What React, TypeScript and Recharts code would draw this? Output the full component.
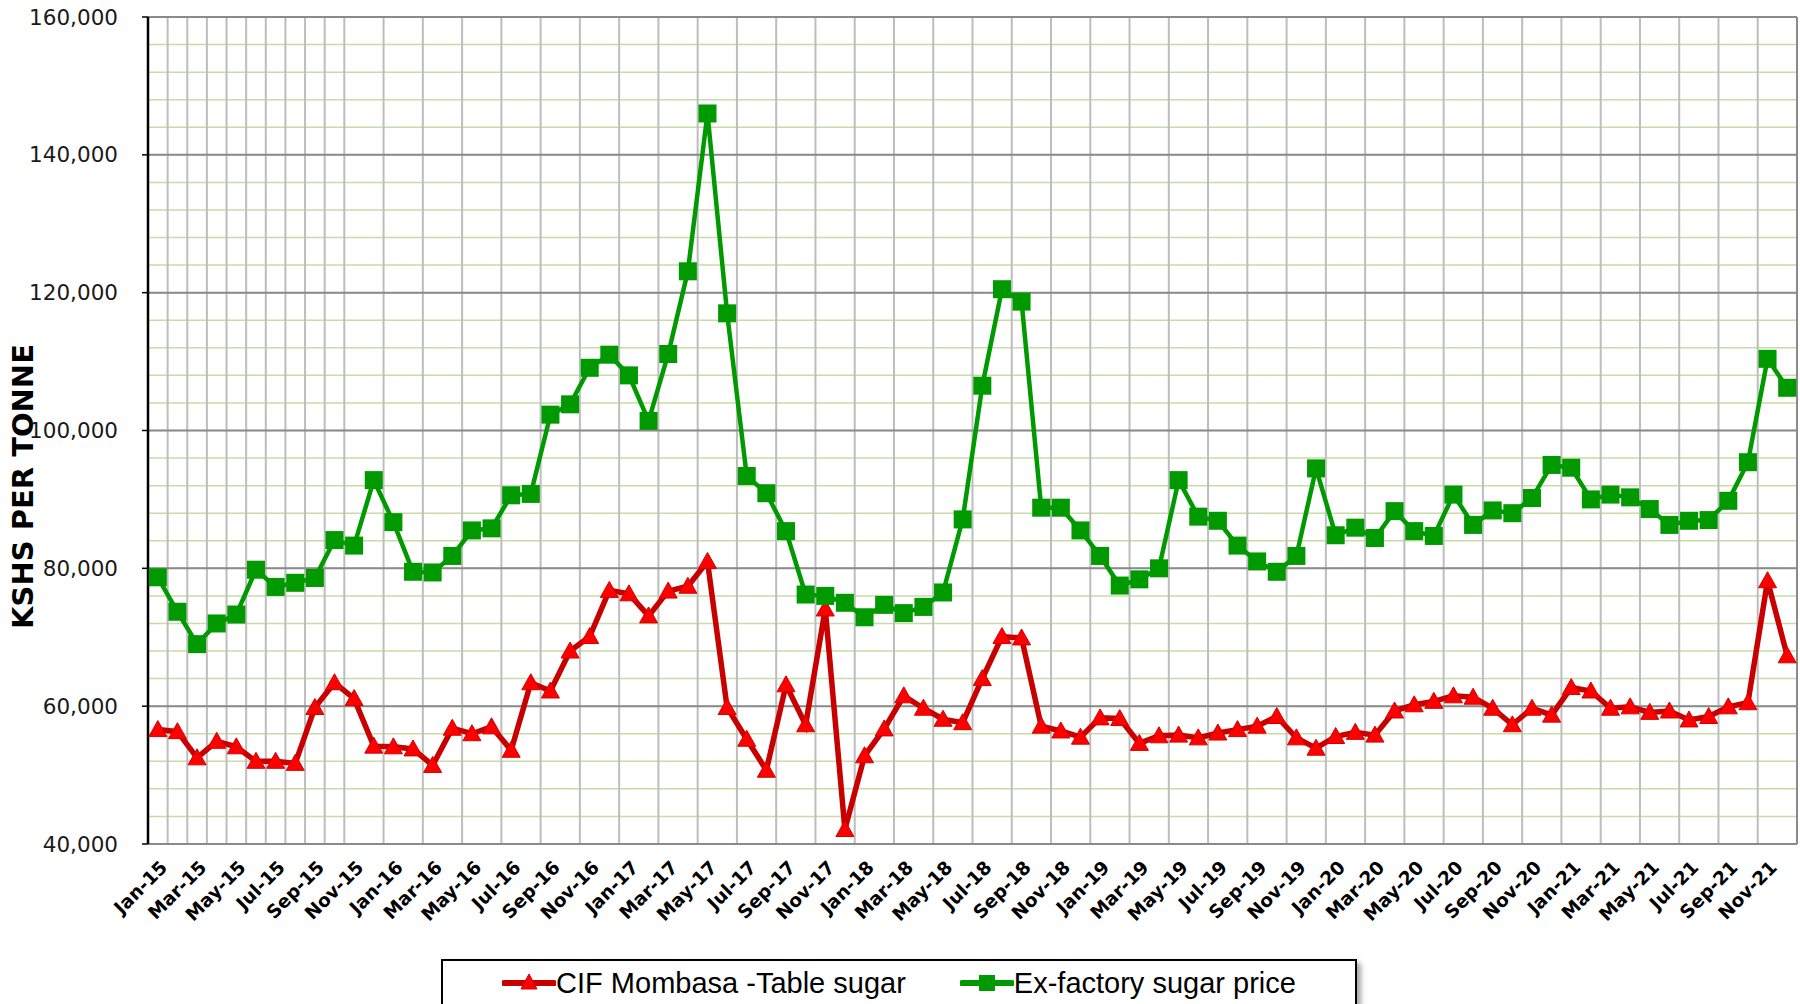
import { CartesianGrid, Legend, Line, LineChart, XAxis, YAxis } from "recharts";

const MONTH_NAMES = ["Jan", "Feb", "Mar", "Apr", "May", "Jun", "Jul", "Aug", "Sep", "Oct", "Nov", "Dec"];
const YEARS = ["15", "16", "17", "18", "19", "20", "21"];
const months = YEARS.flatMap((y) => MONTH_NAMES.map((m) => `${m}-${y}`));

// KSHS per tonne, Jan-15 .. Dec-21
const cifMombasa = [
  56600, 56300, 52500, 54900, 54100, 52000, 52000, 51700, 59800, 63400, 61100, 54200,
  54100, 53800, 51400, 56800, 56000, 57000, 53600, 63400, 62200, 68000, 70100, 76800,
  76300, 73100, 76700, 77400, 81000, 59800, 55200, 50700, 63100, 57300, 74100, 42100,
  52800, 56700, 61500, 59700, 58100, 57600, 64000, 70100, 69900, 57100, 56400, 55500,
  58300, 58200, 54600, 55700, 55800, 55400, 56100, 56600, 57100, 58500, 55400, 53900,
  55600, 56200, 55800, 59300, 60200, 60700, 61500, 61300, 59700, 57300, 59700, 58700,
  62700, 62200, 59700, 59900, 59100, 59300, 58000, 58500, 59900, 60500, 78200, 67300,
];

const exFactory = [
  78700, 73700, 69000, 72000, 73300, 79800, 77300, 77900, 78600, 84100, 83300, 92800,
  86700, 79500, 79400, 81800, 85500, 85800, 90600, 90800, 102300, 103800, 109100, 111000,
  108000, 101400, 111100, 123100, 146000, 117000, 93400, 90900, 85400, 76200, 76000, 75000,
  72900, 74700, 73500, 74400, 76500, 87100, 106500, 120500, 118700, 88800, 88800, 85500,
  81800, 77500, 78400, 80000, 92800, 87500, 86900, 83300, 81000, 79500, 81800, 94500,
  84800, 85900, 84400, 88300, 85400, 84700, 90700, 86300, 88400, 88000, 90200, 95000,
  94600, 90000, 90700, 90300, 88600, 86300, 86900, 87000, 89800, 95400, 110400, 106200,
];

const yMajorTicks = [40000, 60000, 80000, 100000, 120000, 140000, 160000];
const yMinorTicks = [
  40000, 44000, 48000, 52000, 56000, 60000, 64000, 68000, 72000, 76000, 80000, 84000, 88000,
  92000, 96000, 100000, 104000, 108000, 112000, 116000, 120000, 124000, 128000, 132000,
  136000, 140000, 144000, 148000, 152000, 156000, 160000,
];

// month i sits in the middle of slot [i, i+1]
const data = months.map((m, i) => ({
  x: i + 0.5,
  month: m,
  cif: cifMombasa[i],
  exf: exFactory[i],
}));

const slotEdges = Array.from({ length: months.length + 1 }, (_, i) => i);
const majorEdges = slotEdges.filter((i) => i % 2 === 0);
const labelTicks = data.filter((_, i) => i % 2 === 0).map((d) => d.x);

const RED_LINE = "#c80000";
const RED_MARK = "#ff0000";
const GREEN = "#009900";

const Triangle = (props: any) => {
  const { cx, cy, key } = props;
  if (cx == null || cy == null) return null;
  return (
    <polygon
      key={key}
      points={`${cx},${cy - 9} ${cx + 9},${cy + 7} ${cx - 9},${cy + 7}`}
      fill={RED_MARK}
      stroke="#d40000"
      strokeWidth={1}
    />
  );
};

const Square = (props: any) => {
  const { cx, cy, key } = props;
  if (cx == null || cy == null) return null;
  return <rect key={key} x={cx - 9} y={cy - 9} width={18} height={18} fill={GREEN} />;
};

const MonthTick = (props: any) => {
  const { x, y, payload } = props;
  const label = months[Math.round(payload.value - 0.5)];
  return (
    <g transform={`translate(${x + 6},${y + 12})`}>
      <text
        transform="rotate(-45)"
        textAnchor="end"
        dominantBaseline="central"
        fontFamily="DejaVu Sans"
        fontWeight="bold"
        fontSize={18.5}
        fill="#000"
      >
        {label}
      </text>
    </g>
  );
};

const YTitle = (props: any) => {
  const vb = props.viewBox || { y: 17, height: 827 };
  const cx = 23;
  const cy = vb.y + vb.height / 2 + 56;
  return (
    <text
      x={cx}
      y={cy}
      transform={`rotate(-90, ${cx}, ${cy})`}
      textAnchor="middle"
      dominantBaseline="central"
      fontFamily="DejaVu Sans"
      fontWeight="bold"
      fontSize={29}
      fill="#000"
    >
      KSHS PER TONNE
    </text>
  );
};

const LegendIcon = ({ kind }: { kind: "tri" | "sq" }) => (
  <svg width={54} height={24} style={{ display: "block" }}>
    <line x1={2} y1={12} x2={52} y2={12} stroke={kind === "tri" ? RED_LINE : GREEN} strokeWidth={6} strokeLinecap="round" />
    {kind === "tri" ? (
      <polygon points="27,3 35,18 19,18" fill={RED_MARK} stroke="#d40000" strokeWidth={1} />
    ) : (
      <rect x={19} y={4} width={16} height={16} fill={GREEN} />
    )}
  </svg>
);

const legendItems = [
  { kind: "tri" as const, label: "CIF Mombasa -Table sugar" },
  { kind: "sq" as const, label: "Ex-factory sugar price" },
];

const renderLegend = () => (
  <div
    style={{
      boxSizing: "border-box",
      width: 916,
      height: 70,
      border: "2px solid #000",
      background: "#fff",
      boxShadow: "4px 4px 5px rgba(0,0,0,0.35)",
      display: "flex",
      justifyContent: "center",
      alignItems: "flex-start",
      paddingTop: 5,
      gap: 54,
      fontFamily: "Liberation Sans",
      fontSize: 29,
      lineHeight: "34px",
      color: "#000",
    }}
  >
    {legendItems.map((it) => (
      <div key={it.label} style={{ display: "flex", alignItems: "center" }}>
        <LegendIcon kind={it.kind} />
        <span>{it.label}</span>
      </div>
    ))}
  </div>
);

export default function App() {
  return (
    <div
      style={{
        position: "absolute",
        left: 0,
        top: 0,
        width: 1800,
        height: 1004,
        overflow: "hidden",
        background: "#fff",
      }}
    >
      <LineChart width={1800} height={1004} data={data} margin={{ top: 17, right: 3, bottom: 0, left: 0 }}>
        <XAxis xAxisId="minorX" type="number" dataKey="x" domain={[0, 84]} ticks={slotEdges} allowDataOverflow hide />
        <YAxis yAxisId="minorY" type="number" domain={[40000, 160000]} ticks={yMinorTicks} allowDataOverflow hide />

        <CartesianGrid xAxisId="minorX" yAxisId="minorY" vertical={false} stroke="#c9dba6" strokeWidth={1.5} />
        <CartesianGrid xAxisId="minorX" yAxisId="minorY" horizontal={false} stroke="#bdbdbd" strokeWidth={2} />
        <CartesianGrid xAxisId="main" yAxisId="main" stroke="#8a8a8a" strokeWidth={2} />

        <XAxis
          xAxisId="main"
          type="number"
          dataKey="x"
          domain={[0, 84]}
          ticks={majorEdges}
          interval={0}
          allowDataOverflow
          height={0}
          tick={false}
          tickSize={7}
          tickLine={{ stroke: "#000", strokeWidth: 1.5 }}
          axisLine={{ stroke: "#000", strokeWidth: 2.5 }}
        />
        <XAxis
          xAxisId="labels"
          type="number"
          dataKey="x"
          domain={[0, 84]}
          ticks={labelTicks}
          interval={0}
          allowDataOverflow
          height={160}
          tick={<MonthTick />}
          tickLine={false}
          axisLine={false}
        />
        <XAxis
          xAxisId="top"
          orientation="top"
          type="number"
          dataKey="x"
          domain={[0, 84]}
          allowDataOverflow
          height={0}
          tick={false}
          tickLine={false}
          axisLine={{ stroke: "#000", strokeWidth: 2.5 }}
        />
        <YAxis
          yAxisId="main"
          type="number"
          domain={[40000, 160000]}
          ticks={yMajorTicks}
          interval={0}
          allowDataOverflow
          width={148}
          tickSize={6}
          tickMargin={24}
          tickLine={{ stroke: "#000", strokeWidth: 1.5 }}
          axisLine={{ stroke: "#000", strokeWidth: 2.5 }}
          tick={{ fontFamily: "DejaVu Sans", fontSize: 21.5, fill: "#1a1a1a" }}
          tickFormatter={(v: number) => v.toLocaleString("en-US")}
          label={<YTitle />}
        />
        <YAxis
          yAxisId="right"
          orientation="right"
          type="number"
          domain={[40000, 160000]}
          allowDataOverflow
          width={0}
          tick={false}
          tickLine={false}
          axisLine={{ stroke: "#000", strokeWidth: 2.5 }}
        />

        <Line
          xAxisId="main"
          yAxisId="main"
          dataKey="cif"
          name="CIF Mombasa -Table sugar"
          stroke={RED_LINE}
          strokeWidth={5.5}
          dot={Triangle}
          activeDot={false}
          isAnimationActive={false}
        />
        <Line
          xAxisId="main"
          yAxisId="main"
          dataKey="exf"
          name="Ex-factory sugar price"
          stroke={GREEN}
          strokeWidth={4.5}
          dot={Square}
          activeDot={false}
          isAnimationActive={false}
        />

        <Legend
          verticalAlign="middle"
          layout="horizontal"
          content={renderLegend}
          wrapperStyle={{ left: 441, top: 959, width: 916, height: 70 }}
        />
      </LineChart>
    </div>
  );
}
